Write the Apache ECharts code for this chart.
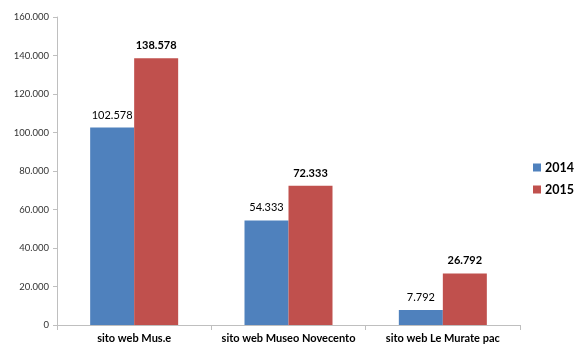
<!DOCTYPE html>
<html><head><meta charset="utf-8">
<script src="https://cdn.jsdelivr.net/npm/echarts@6/dist/echarts.min.js"></script>
<style>html,body{margin:0;padding:0;background:#fff}#c{width:574px;height:345px}</style>
</head><body><div id="c"></div>
<script>
const categories = ["sito web Mus.e", "sito web Museo Novecento", "sito web Le Murate pac"];
const values2014 = [102578, 54333, 7792];
const values2015 = [138578, 72333, 26792];
const seriesNames = ["2014", "2015"];

function fmt(v){ return String(Math.round(v)).replace(/\B(?=(\d{3})+(?!\d))/g, "."); }
const F = "Lato, 'Liberation Sans', sans-serif";
const chart = echarts.init(document.getElementById('c'));
chart.setOption({
  animation:false,
  textStyle:{fontFamily:F},
  grid:{left:57,right:54,top:17,bottom:20,containLabel:false},
  legend:{orient:'vertical',left:533,top:161,itemWidth:8,itemHeight:8,itemGap:9,icon:'rect',padding:0,
    textStyle:{fontFamily:F,fontWeight:'bold',fontSize:12.5,color:'#000',padding:[0,0,0,-1]},data:seriesNames},
  xAxis:{type:'category',data:categories,
    axisLine:{lineStyle:{color:'#bfbfbf'}},
    axisTick:{show:true,length:5,lineStyle:{color:'#bfbfbf'}},
    axisLabel:{interval:0,fontFamily:F,fontWeight:'bold',fontSize:11,color:'#000',margin:8}},
  yAxis:{type:'value',min:0,max:160000,interval:20000,
    axisLine:{show:true,lineStyle:{color:'#bfbfbf'}},
    axisTick:{show:true,length:4,lineStyle:{color:'#bfbfbf'}},
    splitLine:{show:false},
    axisLabel:{fontFamily:F,fontSize:9.5,color:'#333',margin:8,formatter:fmt}},
  series:[
    {name:seriesNames[0],type:'bar',data:values2014,barWidth:44,barGap:'0%',
      itemStyle:{color:'#4F81BD'},
      label:{show:true,position:'top',distance:7,fontFamily:F,fontSize:11,color:'#000',formatter:p=>fmt(p.value)}},
    {name:seriesNames[1],type:'bar',data:values2015,barWidth:44,barGap:'0%',
      itemStyle:{color:'#C0504D'},
      label:{show:true,position:'top',distance:7,fontFamily:F,fontSize:11,fontWeight:'bold',color:'#000',formatter:p=>fmt(p.value)}}
  ]
});
</script></body></html>
